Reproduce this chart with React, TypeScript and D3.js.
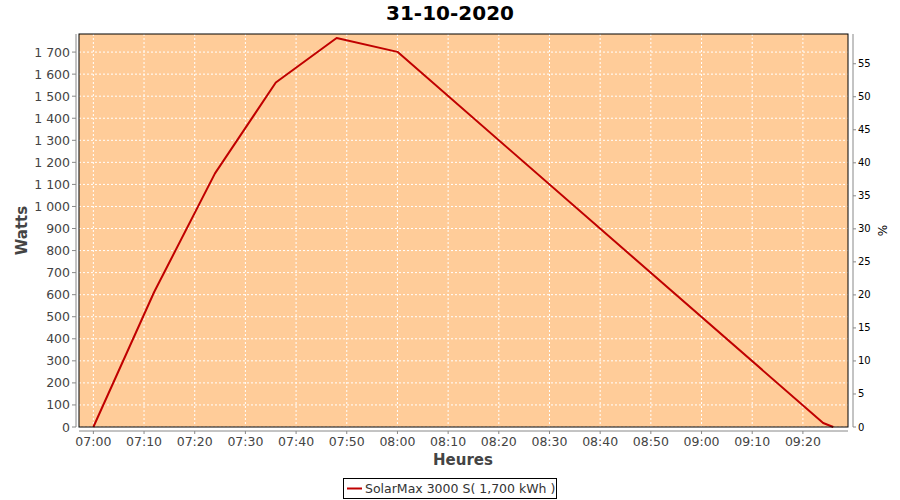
import React from "react";
import * as d3 from "d3";

const title = "31-10-2020";
const times = ["07:00", "07:12", "07:24", "07:36", "07:48", "08:00", "09:24", "09:26"];
const watts = [0, 612, 1150, 1562, 1764, 1701, 18, 0];
const leftTicks = [0, 100, 200, 300, 400, 500, 600, 700, 800, 900, 1000, 1100, 1200, 1300, 1400, 1500, 1600, 1700];
const rightTicks = [0, 5, 10, 15, 20, 25, 30, 35, 40, 45, 50, 55];
const xTickLabels = ["07:00", "07:10", "07:20", "07:30", "07:40", "07:50", "08:00", "08:10", "08:20", "08:30", "08:40", "08:50", "09:00", "09:10", "09:20"];
const seriesName = "SolarMax 3000 S( 1,700 kWh )";

const FONT = "DejaVu Sans, Verdana, sans-serif";
const toDate = (s: string) => {
  const [h, m] = s.split(":").map(Number);
  return new Date(2020, 9, 31, h, m, 0);
};

export default function App() {
  const W = 900, H = 500;
  const L = 79, R = 848, T = 34, B = 427;
  const x = d3.scaleTime()
    .domain([new Date(2020, 9, 31, 6, 57, 10), new Date(2020, 9, 31, 9, 28, 54)])
    .range([L, R]);
  const y = d3.scaleLinear().domain([0, 1782]).range([B, T]);
  const y2 = d3.scaleLinear().domain([0, 59.5]).range([B, T]);
  const loc = d3.formatLocale({ decimal: ",", thousands: "\u00a0", grouping: [3], currency: ["", "€"] });
  const fmt = loc.format(",d");
  const data = times.map((t, i) => ({ t: toDate(t), v: watts[i] }));
  const line = d3.line<{ t: Date; v: number }>().x(d => x(d.t)).y(d => y(d.v));
  const xTicks = xTickLabels.map(toDate);
  const tf = d3.timeFormat("%H:%M");

  return (
    <svg width={W} height={H} style={{ position: "absolute", left: 0, top: 0, background: "#fff" }} fontFamily={FONT}>
      <text x={450} y={20} textAnchor="middle" fontSize={20} fontWeight="bold" fill="#000">{title}</text>
      <rect x={L} y={T} width={R - L} height={B - T} fill="#FFCC99" />
      {xTicks.map((d, i) => (
        <line key={"gx" + i} x1={x(d)} x2={x(d)} y1={T} y2={B} stroke="#fff" strokeDasharray="2,2" strokeWidth={1} />
      ))}
      {leftTicks.map((v, i) => (
        <line key={"gy" + i} x1={L} x2={R} y1={y(v)} y2={y(v)} stroke="#fff" strokeDasharray="2,2" strokeWidth={1} />
      ))}
      <path d={line(data) || ""} fill="none" stroke="#C00000" strokeWidth={2} strokeLinejoin="round" />
      <rect x={L} y={T} width={R - L} height={B - T} fill="none" stroke="#000" strokeWidth={1} />
      {/* left axis */}
      <line x1={76} x2={76} y1={T} y2={B} stroke="#888" />
      {leftTicks.map((v, i) => (
        <g key={"ly" + i}>
          <line x1={72} x2={76} y1={y(v)} y2={y(v)} stroke="#888" />
          <text x={70} y={y(v) + 4.5} textAnchor="end" fontSize={12.5} fill="#444">{fmt(v)}</text>
        </g>
      ))}
      <text transform={`translate(27,${(T + B) / 2}) rotate(-90)`} textAnchor="middle" fontSize={15} fontWeight="bold" fill="#444">Watts</text>
      {/* right axis */}
      <line x1={853} x2={853} y1={T} y2={B} stroke="#888" />
      {rightTicks.map((v, i) => (
        <g key={"ry" + i}>
          <line x1={853} x2={856} y1={y2(v)} y2={y2(v)} stroke="#888" />
          <text x={858} y={y2(v) + 3.5} textAnchor="start" fontSize={10} fill="#000">{v}</text>
        </g>
      ))}
      <text transform={`translate(887,${(T + B) / 2}) rotate(-90)`} textAnchor="middle" fontSize={12} fill="#000">%</text>
      {/* bottom axis */}
      <line x1={L} x2={R} y1={431} y2={431} stroke="#888" />
      {xTicks.map((d, i) => (
        <g key={"lx" + i}>
          <line x1={x(d)} x2={x(d)} y1={431} y2={434} stroke="#888" />
          <text x={x(d)} y={446} textAnchor="middle" fontSize={12.5} fill="#444">{tf(d)}</text>
        </g>
      ))}
      <text x={463} y={465} textAnchor="middle" fontSize={15} fontWeight="bold" fill="#444">Heures</text>
      {/* legend */}
      <rect x={343.5} y={478.5} width={213} height={20} fill="#fff" stroke="#000" />
      <line x1={347} x2={362} y1={488.5} y2={488.5} stroke="#C00000" strokeWidth={2} />
      <text x={365} y={493} fontSize={12.5} fill="#333">{seriesName}</text>
    </svg>
  );
}
